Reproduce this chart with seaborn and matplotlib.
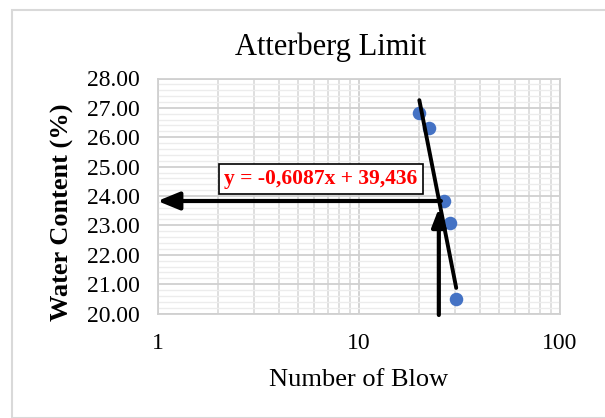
import numpy as np
import pandas as pd
import matplotlib
matplotlib.use("Agg")
import matplotlib.pyplot as plt
import seaborn as sns
from matplotlib.patches import Rectangle
from matplotlib.ticker import LogLocator, MultipleLocator, FixedLocator

# Data
blows = [20.0, 22.3, 26.4, 28.5, 30.5]
water_content = [26.84, 26.32, 23.83, 23.09, 20.48]
slope = -0.6087
intercept = 39.436
equation = "y = -0,6087x + 39,436"
n_ll = 25.3          # number of blows for liquid limit
ll_value = 23.83     # liquid limit (%)
y_ticks = [20, 21, 22, 23, 24, 25, 26, 27, 28]
x_ticks = [1, 10, 100]
x_tick_labels = ["1", "10", "100"]

sns.set_theme(style="white")
plt.rcParams['font.family'] = ['Liberation Serif', 'DejaVu Serif']
plt.rcParams['text.color'] = 'black'

df = pd.DataFrame({"blows": blows, "wc": water_content})

fig = plt.figure(figsize=(6.05, 4.18), dpi=100)
ax = fig.add_axes([157.5 / 605, 1 - 313.5 / 418, (560 - 157.5) / 605, (313.5 - 78.5) / 418])

# chart area border
fig.patches.append(Rectangle((12 / 605, 0), 1.2, 1 - 10 / 418, transform=fig.transFigure,
                             fill=False, edgecolor='#d9d9d9', lw=1.5, zorder=0))

ax.set_xscale('log')
ax.set_xlim(1, 100)
ax.set_ylim(20, 28)

# gridlines
ax.yaxis.set_major_locator(FixedLocator(y_ticks))
ax.yaxis.set_minor_locator(MultipleLocator(0.2))
ax.xaxis.set_major_locator(FixedLocator(x_ticks))
ax.xaxis.set_minor_locator(LogLocator(base=10, subs=np.arange(2, 10)))
ax.grid(which='major', axis='both', color='#d0d0d0', lw=1.3)
ax.grid(which='minor', axis='y', color='#ececec', lw=1.0)
ax.grid(which='minor', axis='x', color='#d9d9d9', lw=1.2)
ax.set_axisbelow(True)
for s in ax.spines.values():
    s.set_color('#d0d0d0')
    s.set_linewidth(1.3)

ax.set_xticks(x_ticks)
ax.set_xticklabels(x_tick_labels)
ax.set_yticks(y_ticks)
ax.set_yticklabels([f"{v:.2f}" for v in y_ticks])
ax.tick_params(axis='both', which='both', length=0, labelsize=17, colors='black')
ax.tick_params(axis='y', pad=13)
ax.tick_params(axis='x', pad=14)

# data points
sns.scatterplot(data=df, x="blows", y="wc", ax=ax, color='#4472C4', s=95,
                edgecolor='#4472C4', linewidth=0, zorder=3, legend=False)

# linear trendline from the equation
x_fit = np.array([min(blows), max(blows)])
ax.plot(x_fit, slope * x_fit + intercept, color='black', lw=2.8, zorder=4)

# arrows for liquid limit
ax.annotate("", xy=(1.0, ll_value), xytext=(n_ll + 0.3, ll_value),
            arrowprops=dict(arrowstyle='-|>,head_length=1.1,head_width=0.45', color='black',
                            lw=3, shrinkA=0, shrinkB=0), zorder=5)
ax.annotate("", xy=(n_ll - 0.3, ll_value - 0.25), xytext=(n_ll - 0.3, 19.95),
            arrowprops=dict(arrowstyle='-|>,head_length=0.9,head_width=0.35', color='black',
                            lw=3, shrinkA=0, shrinkB=0), zorder=5, annotation_clip=False)

ax.text(6.5, 24.58, equation, color='red', fontsize=15.5, fontweight='bold',
        ha='center', va='center', zorder=6,
        bbox=dict(boxstyle='square,pad=0.25', facecolor='white', edgecolor='black', lw=1.2))

ax.set_xlabel("")
ax.set_ylabel("")
fig.text(331 / 605, 1 - 47 / 418, "Atterberg Limit", fontsize=22, ha='center', va='center')
fig.text(62 / 605, 1 - 212 / 418, "Water Content (%)", fontsize=19, fontweight='bold',
         rotation=90, ha='center', va='center')
fig.text(359 / 605, 1 - 380 / 418, "Number of Blow", fontsize=19, ha='center', va='center')

fig.savefig("out.png", dpi=100)
